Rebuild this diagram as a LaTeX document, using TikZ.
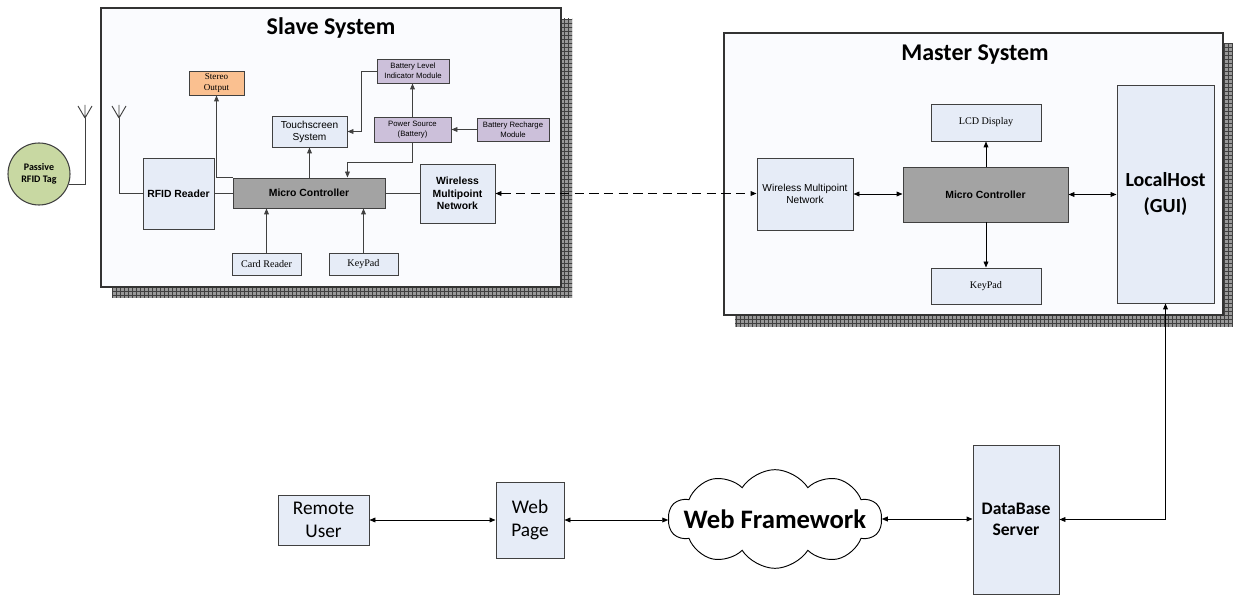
\documentclass[tikz,border=0pt]{standalone}
\usepackage{fontspec}
\setmainfont{Liberation Serif}
\setsansfont{Liberation Sans}
\newfontfamily\carl{Carlito}
\usetikzlibrary{fit,shapes.symbols,patterns,arrows.meta}
\definecolor{lblue}{HTML}{E6ECF7}
\definecolor{mcgray}{HTML}{A3A3A3}
\definecolor{lav}{HTML}{CCC0DA}
\definecolor{orng}{HTML}{FAC090}
\definecolor{tagg}{HTML}{C8D8A2}
\definecolor{bgw}{HTML}{FAFBFE}
\begin{document}
\begin{tikzpicture}[x=0.75pt,y=-0.75pt,
  box/.style={draw=black!75, line width=0.7pt, inner sep=0pt, align=center},
  lb/.style={box, fill=lblue},
  gr/.style={box, fill=mcgray},
  lv/.style={box, fill=lav},
  og/.style={box, fill=orng},
  fb/.style={font=\sffamily\bfseries\fontsize{7.8}{9.2}\selectfont},
  fr/.style={font=\sffamily\fontsize{7.6}{9}\selectfont},
  fs/.style={font=\sffamily\fontsize{5.8}{7.6}\selectfont},
  ft/.style={font=\rmfamily\fontsize{7.6}{9}\selectfont},
  tip/.style={-{Triangle[length=4.5pt,width=3.6pt]}},
  dtip/.style={{Triangle[length=4.5pt,width=3.6pt]}-{Triangle[length=4.5pt,width=3.6pt]}},
  con/.style={line width=0.7pt, draw=black!75},
  mcon/.style={line width=0.7pt, draw=black},
  shadowfill/.style={fill=gray!80},
  shadowpat/.style={pattern=grid, pattern color=black!75},
  sysbox/.style={draw=black!80, line width=0.8pt, fill=bgw},
  title/.style={font=\carl\bfseries\fontsize{18}{20}\selectfont, anchor=base}
]
\useasboundingbox (0,0) rectangle (1233,595);
\fill[white] (0,0) rectangle (1233,595);

% ---------------- Slave system frame ----------------
\path[shadowfill] (112,19) rectangle (572,298);
\path[shadowpat] (112,19) rectangle (572,298);
\path[sysbox] (101,8) rectangle (561,287);
\node[title] (stitle) at (331,34.7) {Slave System};

% ---------------- Master system frame ----------------
\path[shadowfill] (735,44) rectangle (1233,327);
\path[shadowpat] (735,44) rectangle (1233,327);
\path[sysbox] (724,33) rectangle (1223,315);
\node[title] (mtitle) at (975,61) {Master System};

% ---------------- RFID tag ----------------
\node[circle, draw=black!75, line width=0.8pt, fill=tagg, minimum size=46.5pt, inner sep=0pt,
      align=center, font=\carl\bfseries\fontsize{7.5}{9.5}\selectfont] (tag) at (39,174) {Passive\\RFID Tag};
\coordinate (ant1) at (85,118);
\draw[con] (tag.-19) -| (ant1);
\draw[con] (ant1) -- ++(0,-13) (ant1) -- ++(-7,-12) (ant1) -- ++(7,-12);

% ---------------- Slave nodes ----------------
\node[lb, fb, fit={(143,158) (214,229)}] (rfid) {};
\node[fb] at (rfid.center) {RFID Reader};
\coordinate (ant2) at (119,118);
\draw[con] (rfid.west) -| (ant2);
\draw[con] (ant2) -- ++(0,-13) (ant2) -- ++(-7,-12) (ant2) -- ++(7,-12);

\node[gr, fit={(233,178) (385,208)}] (smc) {};
\node[fb] at (smc.center) {Micro Controller};
\node[og, fit={(189,71) (244,95)}] (stereo) {};
\node[ft, font=\rmfamily\fontsize{6.8}{8}\selectfont, align=center] at (stereo.center) {Stereo\\Output};
\node[lb, fit={(272,116) (347,147)}] (touch) {};
\node[fr, align=center] at (touch.center) {Touchscreen\\System};
\node[lv, fit={(377,59) (449,83)}] (batlev) {};
\node[fs, align=center] at (batlev.center) {Battery Level\\Indicator Module};
\node[lv, fit={(374,117) (451,142)}] (power) {};
\node[fs, align=center] at (power.center) {Power Source\\(Battery)};
\node[lv, fit={(477,118) (549,141)}] (recharge) {};
\node[fs, align=center] at (recharge.center) {Battery Recharge\\Module};
\node[lb, fit={(420,164) (495,223)}] (swn) {};
\node[fb, align=center] at (swn.center) {Wireless\\Multipoint\\Network};
\node[lb, fit={(232,253) (301,275)}] (card) {};
\node[ft] at (card.center) {Card Reader};
\node[lb, fit={(329,253) (398,275)}] (skey) {};
\node[ft] at (skey.center) {KeyPad};

\draw[con] (rfid.east) -- (rfid.east -| smc.west);
\draw[con, tip] (smc.north west) -| (stereo.south);
\draw[con, tip] (touch.south |- smc.north) -- (touch.south);
\draw[con, tip] (power.north) -- (power.north |- batlev.south);
\draw[con, tip] (recharge.west) -- (recharge.west -| power.east);
\draw[con, tip] (batlev.west) -- ++(-15,0) |- (touch.east);
\draw[con, tip] (power.south) -- ++(0,20) -| (smc.north -| touch.east);
\draw[con] (smc.east) -- (smc.east -| swn.west);
\draw[con, tip] (card.north) -- (card.north |- smc.south);
\draw[con, tip] (skey.north) -- (skey.north |- smc.south);

% ---------------- Master nodes ----------------
\node[lb, fit={(757,158) (853,230)}] (mwn) {};
\node[fr, align=center] at (mwn.center) {Wireless Multipoint\\Network};
\node[gr, fit={(903,167) (1068,222)}] (mmc) {};
\node[fb] at (mmc.center) {Micro Controller};
\node[lb, fit={(931,104) (1041,141)}] (lcd) {};
\node[ft] at (lcd.center) {LCD Display};
\node[lb, fit={(931,268) (1041,304)}] (mkey) {};
\node[ft] at (mkey.center) {KeyPad};
\node[lb, fit={(1117,85) (1214,303)}] (lh) {};
\node[font=\carl\bfseries\fontsize{15}{19}\selectfont, align=center] at (lh.center) {LocalHost\\(GUI)};

\draw[mcon, dtip] (mwn.east) -- (mwn.east -| mmc.west);
\draw[mcon, dtip] (mmc.east) -- (mmc.east -| lh.west);
\draw[mcon, tip] (lcd.south |- mmc.north) -- (lcd.south);
\draw[mcon, tip] (mkey.north |- mmc.south) -- (mkey.north);
\draw[mcon, dtip, dash pattern=on 7pt off 4pt] (swn.east) -- (swn.east -| mwn.west);

% ---------------- Bottom row ----------------
\node[lb, fit={(278,495) (369,545)}] (remote) {};
\node[font=\carl\fontsize{14.5}{17}\selectfont, align=center] at (remote.center) {Remote\\User};
\node[lb, fit={(496,482) (564,558)}] (web) {};
\node[font=\carl\fontsize{14.5}{17}\selectfont, align=center] at (web.center) {Web\\Page};
\node[cloud, cloud puffs=10, cloud puff arc=115, draw=black, line width=0.7pt, fill=white,
      minimum width=160pt, minimum height=74pt, inner sep=0pt, aspect=2.2] (cloud) at (775,519) {};
\node[font=\carl\bfseries\fontsize{20}{24}\selectfont] at (cloud.center) {Web Framework};
\node[lb, fit={(973,445) (1059,594)}] (db) {};
\node[font=\carl\bfseries\fontsize{13.2}{16}\selectfont, align=center] at (db.center) {DataBase\\Server};

\draw[mcon, dtip] (remote.east) -- (remote.east -| web.west);
\draw[mcon, dtip] (web.east) -- (web.east -| cloud.west);
\draw[mcon, dtip] (cloud.east) -- (cloud.east -| db.west);
\draw[mcon, dtip] (lh.south) |- (db.east);
\end{tikzpicture}
\end{document}
